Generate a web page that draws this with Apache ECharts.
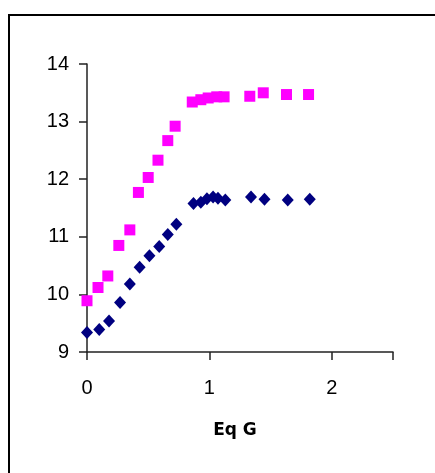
<!DOCTYPE html>
<html>
<head>
<meta charset="utf-8">
<script src="https://cdn.jsdelivr.net/npm/echarts@6/dist/echarts.min.js"></script>
<style>html,body{margin:0;padding:0;background:#fff;}#c{width:435px;height:473px;}</style>
</head>
<body>
<div id="c"></div>
<script>
var pinkX = [0, 0.09, 0.17, 0.26, 0.35, 0.42, 0.50, 0.58, 0.66, 0.72, 0.86, 0.93, 0.99, 1.06, 1.12, 1.33, 1.44, 1.63, 1.81];
var pinkY = [9.89, 10.12, 10.32, 10.85, 11.12, 11.77, 12.03, 12.33, 12.67, 12.92, 13.34, 13.38, 13.41, 13.43, 13.43, 13.44, 13.50, 13.47, 13.47];
var navyX = [0, 0.10, 0.18, 0.27, 0.35, 0.43, 0.51, 0.59, 0.66, 0.73, 0.87, 0.93, 0.98, 1.03, 1.07, 1.13, 1.34, 1.45, 1.64, 1.82];
var navyY = [9.34, 9.39, 9.54, 9.86, 10.18, 10.47, 10.67, 10.83, 11.04, 11.22, 11.58, 11.60, 11.66, 11.69, 11.67, 11.64, 11.69, 11.65, 11.64, 11.65];
var xTitle = 'Eq G';

function pairs(xs, ys) { return xs.map(function (x, i) { return [x, ys[i]]; }); }

var chart = echarts.init(document.getElementById('c'), null, {renderer: 'canvas'});
chart.setOption({
  animation: false,
  backgroundColor: '#fff',
  graphic: [{
    type: 'rect', shape: {x: 9, y: 15, width: 700, height: 700},
    style: {fill: 'none', stroke: '#000', lineWidth: 2}, z: 100
  }],
  grid: {left: 87, top: 64, right: 42, bottom: 121, containLabel: false},
  xAxis: {
    type: 'value', min: 0, max: 2.5, interval: 1,
    name: xTitle, nameLocation: 'middle', nameGap: 70,
    nameTextStyle: {fontFamily: 'DejaVu Sans', fontWeight: 'bold', fontSize: 17, color: '#000', padding: [0, 10, 0, 0]},
    axisLine: {show: true, onZero: false, lineStyle: {color: '#222', width: 1.5}},
    axisTick: {show: true, inside: false, length: 8, lineStyle: {color: '#222', width: 1.5}},
    axisLabel: {fontFamily: 'Liberation Sans', fontSize: 20, color: '#000', margin: 26,
      formatter: function (v) { return (v % 1 === 0) ? String(v) : ''; }},
    splitLine: {show: false}
  },
  yAxis: {
    type: 'value', min: 9, max: 14, interval: 1,
    axisLine: {show: true, onZero: false, lineStyle: {color: '#222', width: 1.5}},
    axisTick: {show: true, inside: false, length: 8, lineStyle: {color: '#222', width: 1.5}},
    axisLabel: {fontFamily: 'Liberation Sans', fontSize: 20, color: '#000', margin: 18},
    splitLine: {show: false}
  },
  series: [{
    type: 'scatter', data: pairs(pinkX, pinkY), symbol: 'rect', symbolSize: 11,
    itemStyle: {color: '#FF00FF', opacity: 1}
  }, {
    type: 'scatter', data: pairs(navyX, navyY), symbol: 'diamond', symbolSize: [12, 13],
    itemStyle: {color: '#000080', opacity: 1}
  }]
});
</script>
</body>
</html>
